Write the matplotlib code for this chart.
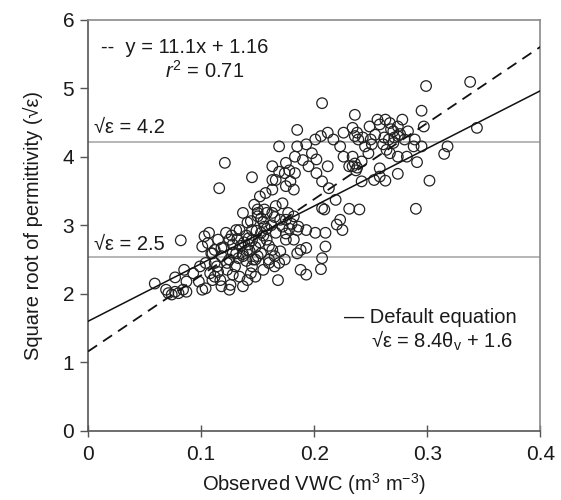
import matplotlib
matplotlib.use("Agg")
import matplotlib.pyplot as plt
import numpy as np

plt.rcParams['font.family'] = ['Liberation Sans', 'DejaVu Sans']
plt.rcParams['mathtext.fontset'] = 'custom'
plt.rcParams['mathtext.rm'] = 'Liberation Sans'
plt.rcParams['mathtext.it'] = 'Liberation Sans:italic'

# (observed VWC, sqrt permittivity), grouped by region
scattered = [(0.059, 2.15), (0.082, 2.78), (0.116, 3.54), (0.121, 3.91), (0.145, 3.70),
             (0.207, 4.78), (0.299, 5.03), (0.338, 5.09), (0.344, 4.42), (0.295, 4.67),
             (0.297, 4.44), (0.315, 4.04), (0.318, 4.15), (0.302, 3.65), (0.290, 3.24),
             (0.291, 3.92), (0.295, 4.15)]

upper_cluster = [(0.236, 4.61), (0.274, 4.00), (0.274, 3.75), (0.263, 3.65), (0.253, 3.66),
                 (0.258, 3.83), (0.240, 3.23), (0.231, 3.24), (0.225, 2.93), (0.223, 3.08),
                 (0.220, 3.01), (0.210, 2.89), (0.210, 2.69), (0.207, 2.52), (0.206, 2.36),
                 (0.201, 2.89), (0.207, 3.25), (0.209, 3.23), (0.219, 3.37), (0.213, 3.54),
                 (0.207, 3.64), (0.212, 3.86), (0.202, 3.96), (0.198, 4.05), (0.195, 3.86),
                 (0.202, 3.76), (0.185, 4.39), (0.169, 4.15), (0.185, 4.15), (0.183, 4.00),
                 (0.193, 4.18), (0.201, 4.25), (0.206, 4.30), (0.212, 4.35), (0.217, 4.25),
                 (0.226, 4.35), (0.223, 4.15), (0.226, 4.00), (0.234, 4.00), (0.231, 3.86),
                 (0.234, 3.86), (0.236, 3.90), (0.238, 3.84), (0.237, 3.80), (0.242, 3.93),
                 (0.242, 3.64), (0.239, 4.25), (0.236, 4.30), (0.238, 4.35), (0.234, 4.42),
                 (0.249, 4.44), (0.256, 4.54), (0.258, 4.47), (0.263, 4.54), (0.267, 4.49),
                 (0.270, 4.37), (0.274, 4.44), (0.278, 4.54), (0.283, 4.37), (0.280, 4.25),
                 (0.274, 4.30), (0.266, 4.25), (0.261, 4.18), (0.254, 4.32), (0.250, 4.25),
                 (0.270, 4.20), (0.289, 4.25), (0.288, 4.15), (0.282, 4.00), (0.267, 4.05),
                 (0.264, 4.10), (0.251, 4.18), (0.245, 4.15), (0.248, 4.05), (0.258, 3.71),
                 (0.271, 4.28), (0.276, 4.33), (0.268, 4.40), (0.262, 4.28), (0.243, 4.28)]

middle_cluster = [(0.163, 3.86), (0.166, 3.66), (0.163, 3.52), (0.157, 3.47), (0.169, 3.78),
                  (0.174, 3.76), (0.175, 3.91), (0.179, 3.64), (0.175, 3.57), (0.183, 3.76),
                  (0.182, 3.52), (0.163, 3.66), (0.152, 3.42), (0.172, 3.32), (0.190, 3.95),
                  (0.178, 3.80)]

dense_cluster = [(0.069, 2.06), (0.071, 2.01), (0.074, 1.99), (0.077, 2.03), (0.080, 2.01),
                 (0.084, 2.06), (0.087, 2.03), (0.077, 2.24), (0.085, 2.35), (0.087, 2.18),
                 (0.093, 2.30), (0.098, 2.18), (0.101, 2.06), (0.104, 2.08), (0.099, 2.40),
                 (0.104, 2.45), (0.103, 2.84), (0.107, 2.89), (0.106, 2.74), (0.109, 2.59),
                 (0.112, 2.64), (0.114, 2.40), (0.112, 2.25), (0.117, 2.20), (0.118, 2.11),
                 (0.125, 2.06), (0.126, 2.13), (0.123, 2.45), (0.125, 2.79), (0.122, 2.89),
                 (0.128, 2.72), (0.131, 2.93), (0.131, 2.59), (0.130, 2.40), (0.134, 2.25),
                 (0.137, 2.11), (0.141, 2.20), (0.144, 2.30), (0.137, 2.55), (0.141, 2.64),
                 (0.142, 2.81), (0.145, 2.93), (0.144, 3.06), (0.150, 3.13), (0.147, 3.30),
                 (0.150, 3.23), (0.153, 2.89), (0.156, 2.98), (0.158, 2.79), (0.153, 2.59),
                 (0.148, 2.50), (0.148, 2.25), (0.160, 2.50), (0.163, 2.64), (0.166, 2.89),
                 (0.168, 2.20), (0.169, 2.45), (0.174, 2.50), (0.175, 2.79), (0.172, 2.98),
                 (0.175, 3.08), (0.177, 3.18), (0.182, 3.13), (0.185, 2.93), (0.182, 2.79),
                 (0.186, 2.98), (0.188, 2.64), (0.193, 2.67), (0.185, 2.59), (0.188, 2.35),
                 (0.193, 2.28), (0.193, 2.93), (0.166, 3.28), (0.163, 3.18), (0.158, 3.18),
                 (0.156, 3.23), (0.137, 3.18), (0.141, 3.04), (0.134, 2.93), (0.115, 2.79),
                 (0.118, 2.67), (0.101, 2.69), (0.110, 2.59),
                 (0.138, 2.75), (0.142, 2.72), (0.145, 2.78), (0.140, 2.85), (0.135, 2.70),
                 (0.148, 2.68), (0.143, 2.62), (0.137, 2.58), (0.150, 2.55), (0.146, 2.50),
                 (0.140, 2.48), (0.133, 2.52), (0.128, 2.60), (0.152, 2.75), (0.155, 2.85),
                 (0.149, 2.92), (0.158, 2.95), (0.162, 3.00), (0.155, 3.05), (0.160, 2.70),
                 (0.165, 2.55), (0.170, 2.62), (0.175, 2.88), (0.178, 2.95), (0.180, 3.02),
                 (0.170, 3.08), (0.165, 3.12), (0.150, 3.18), (0.153, 3.10), (0.127, 2.85),
                 (0.132, 2.80), (0.120, 2.68), (0.118, 2.55), (0.123, 2.35), (0.128, 2.28),
                 (0.145, 2.40), (0.155, 2.35), (0.160, 2.45), (0.165, 2.40), (0.125, 2.50),
                 (0.112, 2.45), (0.108, 2.30), (0.115, 2.32), (0.110, 2.20)]

# fitted and default equations, horizontal reference levels
fit_slope, fit_icpt = 11.1, 1.16
default_slope, default_icpt = 8.4, 1.6
ref_levels = [4.22, 2.54]
x_ticks = [0, 0.1, 0.2, 0.3, 0.4]
y_ticks = [0, 1, 2, 3, 4, 5, 6]

pts = np.array(scattered + upper_cluster + middle_cluster + dense_cluster)

fig = plt.figure(figsize=(5.61, 5.0), dpi=100)
ax = fig.add_axes([0.157, 0.138, 0.806, 0.823])

txt = '#1a1a1a'
for lv in ref_levels:
    ax.axhline(lv, color='#b0b0b0', lw=1.3, zorder=1)

ax.scatter(pts[:, 0], pts[:, 1], s=58, facecolors='none', edgecolors='#222222',
           linewidths=0.9, zorder=2)

xx = np.array([0, 0.4])
ax.plot(xx, fit_slope * xx + fit_icpt, color='#111111', lw=1.3, ls=(0, (6, 4)), zorder=3)
ax.plot(xx, default_slope * xx + default_icpt, color='#111111', lw=1.1, zorder=3)

fs = 14.5
ax.text(0.011, 5.59, '--  y = 11.1x + 1.16', fontsize=fs, color=txt, va='center')
ax.text(0.068, 5.25, r'$\mathit{r}^\mathregular{2}$ = 0.71', fontsize=fs, color=txt, va='center')
ax.text(0.005, 4.42, '√ε = 4.2', fontsize=fs, color=txt, va='center')
ax.text(0.005, 2.72, '√ε = 2.5', fontsize=fs, color=txt, va='center')
ax.text(0.379, 1.65, '— Default equation', fontsize=fs, color=txt, va='center', ha='right')
ax.text(0.376, 1.31, r'√ε = 8.4θ$_\mathregular{v}$ + 1.6', fontsize=fs, color=txt,
        va='center', ha='right')

ax.set_xlim(0, 0.4)
ax.set_ylim(0, 6)
ax.set_xticks(x_ticks)
ax.set_xticklabels(['0', '0.1', '0.2', '0.3', '0.4'])
ax.set_yticks(y_ticks)
ax.tick_params(axis='x', direction='inout', length=8, width=1, colors='#555555',
               labelcolor=txt, labelsize=15, pad=6)
ax.tick_params(axis='y', direction='out', length=6, width=1, colors='#555555',
               labelcolor=txt, labelsize=15, pad=4)

for side in ['left', 'bottom']:
    ax.spines[side].set_color('#555555')
    ax.spines[side].set_linewidth(1.2)
for side in ['top', 'right']:
    ax.spines[side].set_color('#8a8a8a')
    ax.spines[side].set_linewidth(1.2)

ax.set_xlabel(r'Observed VWC (m$^\mathregular{3}$ m$^\mathregular{−3}$)', fontsize=fs,
              color=txt, labelpad=5)
ax.set_ylabel('Square root of permittivity (√ε)', fontsize=fs, color=txt, labelpad=14)

fig.savefig('out.png', dpi=100)
